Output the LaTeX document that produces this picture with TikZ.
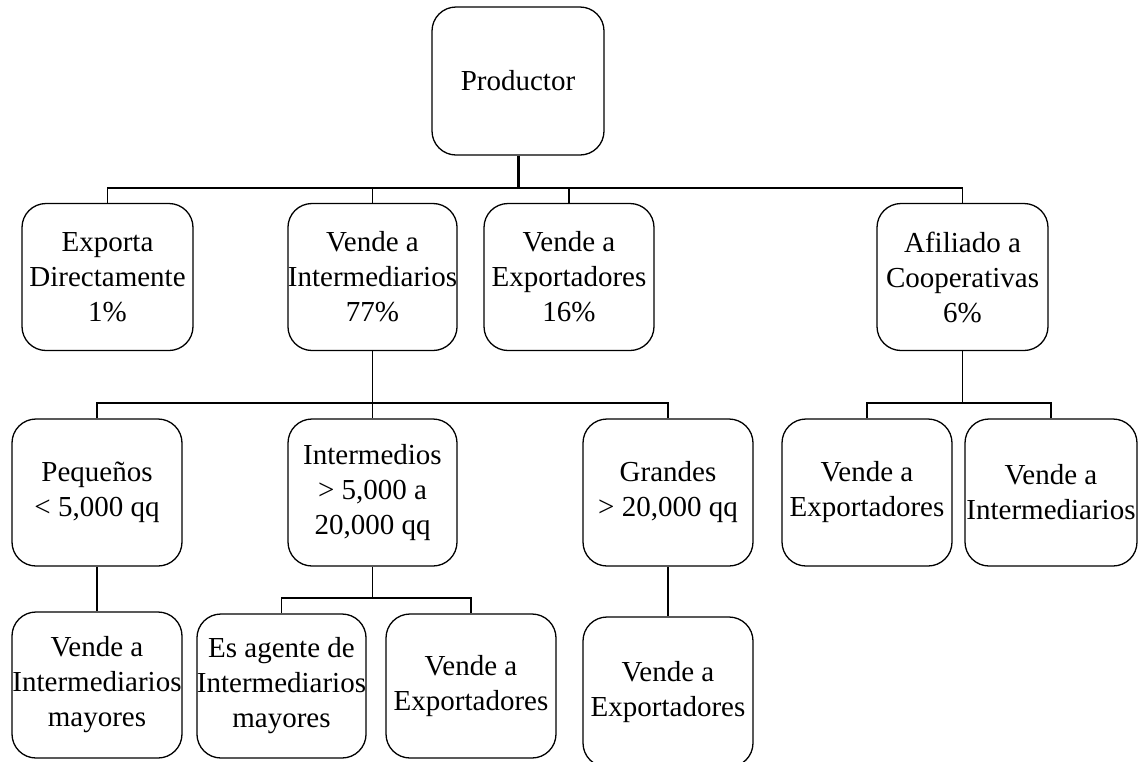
\documentclass[tikz,border=0pt]{standalone}
\usepackage{fontspec}
\setmainfont{Liberation Serif}
\begin{document}
\begin{tikzpicture}[x=1pt,y=-1pt,
  box/.style={draw=black,line width=1.3pt,rounded corners=24pt,align=center,inner sep=0pt,
    minimum height=147pt,font=\fontsize{29}{35}\selectfont},
  link/.style={draw=black,line width=1.8pt},
  thick link/.style={draw=black,line width=3pt}]
\useasboundingbox (0,0) rectangle (1138,761);
\clip (0,0) rectangle (1138,761);
% row 0
\node[box,minimum width=172pt,minimum height=148pt] (P) at (518,81) {Productor};
% row 1
\node[box,minimum width=171pt] (E1) at (107.5,277) {Exporta\\Directamente\\1\%};
\node[box,minimum width=169pt] (E2) at (372.5,277) {Vende a\\Intermediarios\\77\%};
\node[box,minimum width=170pt] (E3) at (569,277) {Vende a\\Exportadores\\16\%};
\node[box,minimum width=171pt] (E4) at (962.5,277) {Afiliado a\\Cooperativas\\6\%};
% row 2
\node[box,minimum width=170pt] (R2a) at (97,492.5) {Pequeños\\< 5,000 qq};
\node[box,minimum width=169pt] (R2b) at (372.5,492.5) {Intermedios\\> 5,000 a\\20,000 qq};
\node[box,minimum width=170pt] (R2c) at (668,492.5) {Grandes\\> 20,000 qq};
\node[box,minimum width=170pt] (R2d) at (867,492.5) {Vende a\\Exportadores};
\node[box,minimum width=172pt] (R2e) at (1051,492.5) {Vende a\\Intermediarios};
% row 3
\node[box,minimum width=170pt,minimum height=146pt] (R3a) at (97,685) {Vende a\\Intermediarios\\mayores};
\node[box,minimum width=169pt,minimum height=144pt] (R3b) at (281.5,686) {Es agente de\\Intermediarios\\mayores};
\node[box,minimum width=170pt,minimum height=144pt] (R3c) at (471,686) {Vende a\\Exportadores};
\node[box,minimum width=170pt,minimum height=150pt] (R3d) at (668,692) {Vende a\\Exportadores};
% buses
\coordinate (b1) at (518,188);
\coordinate (b2) at (372.5,403);
\coordinate (b3) at (962.5,403);
\coordinate (b4) at (372.5,598);
\draw[thick link] (P.south) -- (b1);
\draw[link] (E1.north) |- (b1);
\draw[link] (E2.north) |- (b1);
\draw[link] (E3.north) |- (b1);
\draw[link] (E4.north) |- (b1);
\draw[link] (E2.south) -- (b2);
\draw[link] (R2a.north) |- (b2);
\draw[link] (R2b.north) -- (b2);
\draw[link] (R2c.north) |- (b2);
\draw[link] (E4.south) -- (b3);
\draw[link] (R2d.north) |- (b3);
\draw[link] (R2e.north) |- (b3);
\draw[link] (R2a.south) -- (R3a.north);
\draw[link] (R2b.south) -- (b4);
\draw[link] (R3b.north) |- (b4);
\draw[link] (R3c.north) |- (b4);
\draw[link] (R2c.south) -- (R3d.north);
\end{tikzpicture}
\end{document}
